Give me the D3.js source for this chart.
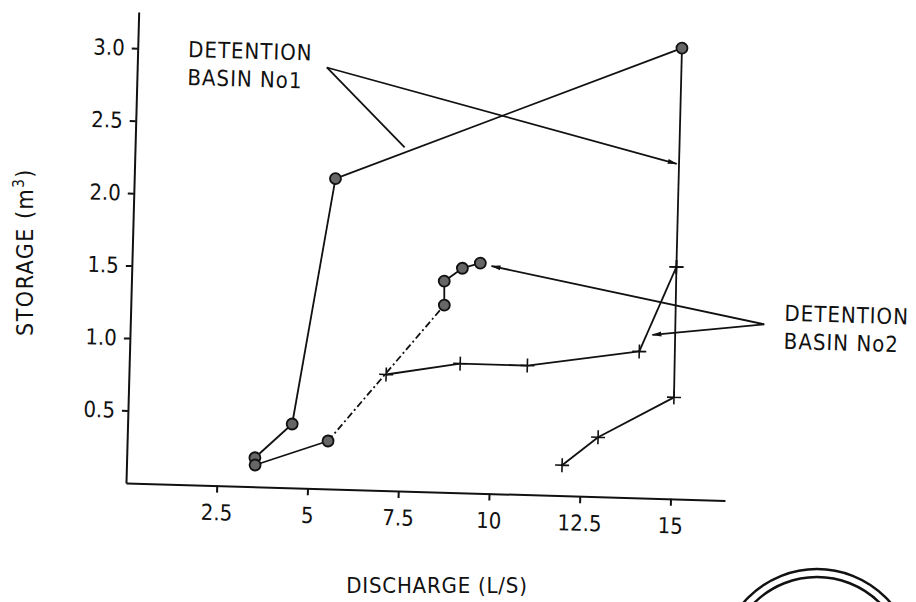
<!DOCTYPE html>
<html>
<head>
<meta charset="utf-8">
<script src="https://cdn.jsdelivr.net/npm/d3@7"></script>
<style>
body { margin: 0; background: #fff; }
text { font-family: "DejaVu Sans Condensed", "DejaVu Sans", sans-serif; fill: #111; }
.axis path, .axis line { stroke: #111; stroke-width: 2; }
.axis text { font-size: 22px; }
</style>
</head>
<body>
<div id="chart"></div>
<script>
const width = 916;
const height = 602;
const plotW = 599;   // 16.5 L/s
const plotH = 471;   // 3.25 m3

// tick values / labels
const xTicks = [2.5, 5, 7.5, 10, 12.5, 15];
const xTickLabels = ["2.5", "5", "7.5", "10", "12.5", "15"];
const yTicks = [0.5, 1.0, 1.5, 2.0, 2.5, 3.0];
const yTickLabels = ["0.5", "1.0", "1.5", "2.0", "2.5", "3.0"];

// detention basin 1 - rising (circles)
const basin1Q = [3.53, 4.53, 5.54, 14.98];
const basin1S = [0.20, 0.44, 2.14, 3.11];
// detention basin 1 - falling (crosses)
const basin1FallQ = [14.98, 14.99, 15.02, 12.96, 11.99];
const basin1FallS = [3.11, 1.60, 0.70, 0.41, 0.21];
// detention basin 2 - rising (circles)
const basin2Q = [3.54, 5.53, 8.63, 8.61, 9.10, 9.59];
const basin2S = [0.15, 0.33, 1.29, 1.455, 1.548, 1.587];
// detention basin 2 - crosses
const basin2FallQ = [7.08, 9.11, 10.96, 14.03, 14.99];
const basin2FallS = [0.80, 0.89, 0.89, 1.01, 1.60];

const series = [
  { q: basin1Q, s: basin1S, marker: "circle", first: 0, dash: [] },
  { q: basin1FallQ, s: basin1FallS, marker: "cross", first: 1, dash: [] },
  { q: basin2Q, s: basin2S, marker: "circle", first: 0, dash: [1] },
  { q: basin2FallQ, s: basin2FallS, marker: "cross", first: 0, dash: [] }
];

// labels with leader lines (data units)
const notes = [
  { lines: ["DETENTION", "BASIN No1"], at: [1.39, 2.95], from: [5.22, 2.905],
    to: [[7.42, 2.369, false], [14.92, 2.311, true]] },
  { lines: ["DETENTION", "BASIN No2"], at: [18.0, 1.25], from: [17.45, 1.222],
    to: [[9.90, 1.569, true], [14.38, 1.127, true]] }
];

const svg = d3.select("#chart")
  .append("svg")
  .attr("width", width)
  .attr("height", height);

svg.append("defs").append("marker")
  .attr("id", "arrow")
  .attr("viewBox", "0 -4 10 8")
  .attr("refX", 9)
  .attr("refY", 0)
  .attr("markerUnits", "userSpaceOnUse")
  .attr("markerWidth", 10)
  .attr("markerHeight", 8)
  .attr("orient", "auto")
  .append("path")
  .attr("d", "M0,-2.5L10,0L0,2.5Z")
  .attr("fill", "#111");

// the scanned figure is slightly skewed
const g = svg.append("g")
  .attr("transform", "matrix(1,0.029,-0.027,1,138.7,12)");

const x = d3.scaleLinear().domain([0, 16.5]).range([0, plotW]);
const y = d3.scaleLinear().domain([0, 3.25]).range([plotH, 0]);

g.append("g")
  .attr("class", "axis")
  .attr("transform", `translate(0,${plotH})`)
  .call(d3.axisBottom(x).tickValues(xTicks).tickSize(7).tickSizeOuter(0).tickPadding(12)
    .tickFormat((d, i) => xTickLabels[i]));

g.append("g")
  .attr("class", "axis")
  .call(d3.axisLeft(y).tickValues(yTicks).tickSize(6).tickSizeOuter(0).tickPadding(7)
    .tickFormat((d, i) => yTickLabels[i]));

// lines, segment by segment
series.forEach(sr => {
  const pts = sr.q.map((q, i) => [q, sr.s[i]]);
  const segs = d3.pairs(pts).map((p, i) => ({ p, dashed: sr.dash.includes(i) }));
  g.selectAll(null)
    .data(segs)
    .join("line")
    .attr("x1", d => x(d.p[0][0]))
    .attr("y1", d => y(d.p[0][1]))
    .attr("x2", d => x(d.p[1][0]))
    .attr("y2", d => y(d.p[1][1]))
    .attr("stroke", "#111")
    .attr("stroke-width", 1.8)
    .attr("stroke-dasharray", d => d.dashed ? "7,3,2,3" : null);
});

// markers
series.forEach(sr => {
  const pts = sr.q.map((q, i) => [q, sr.s[i]]).slice(sr.first);
  if (sr.marker === "circle") {
    g.selectAll(null)
      .data(pts)
      .join("circle")
      .attr("cx", d => x(d[0]))
      .attr("cy", d => y(d[1]))
      .attr("r", 5.5)
      .attr("fill", "#666")
      .attr("stroke", "#111")
      .attr("stroke-width", 1.8);
  } else {
    g.selectAll(null)
      .data(pts)
      .join("path")
      .attr("d", d => `M${x(d[0]) - 7},${y(d[1])}h14M${x(d[0])},${y(d[1]) - 7}v14`)
      .attr("stroke", "#111")
      .attr("stroke-width", 1.6);
  }
});

// annotations
notes.forEach(n => {
  g.selectAll(null)
    .data(n.to)
    .join("line")
    .attr("x1", x(n.from[0]))
    .attr("y1", y(n.from[1]))
    .attr("x2", d => x(d[0]))
    .attr("y2", d => y(d[1]))
    .attr("stroke", "#111")
    .attr("stroke-width", 1.8)
    .attr("marker-end", d => d[2] ? "url(#arrow)" : null);

  const t = g.append("text")
    .attr("x", x(n.at[0]))
    .attr("y", y(n.at[1]))
    .attr("font-size", 22)
    .attr("letter-spacing", 1);
  t.selectAll("tspan")
    .data(n.lines)
    .join("tspan")
    .attr("x", x(n.at[0]))
    .attr("dy", (d, i) => i ? 28 : 0)
    .text(d => d);
});

// axis titles
const yTitle = svg.append("text")
  .attr("transform", "translate(33,252) rotate(-90)")
  .attr("text-anchor", "middle")
  .attr("font-size", 23)
  .attr("letter-spacing", 1.5);
yTitle.append("tspan").text("STORAGE (m");
yTitle.append("tspan").attr("dy", -9).attr("font-size", 15).text("3");
yTitle.append("tspan").attr("dy", 9).text(")");

svg.append("text")
  .attr("x", 437)
  .attr("y", 593)
  .attr("text-anchor", "middle")
  .attr("font-size", 22)
  .attr("letter-spacing", 0.8)
  .text("DISCHARGE (L/S)");

// stamp partly visible in the bottom corner of the scan
svg.selectAll(".stamp")
  .data([97, 89])
  .join("circle")
  .attr("cx", 817)
  .attr("cy", 666)
  .attr("r", d => d)
  .attr("fill", "none")
  .attr("stroke", "#111")
  .attr("stroke-width", 2.5);
</script>
</body>
</html>
